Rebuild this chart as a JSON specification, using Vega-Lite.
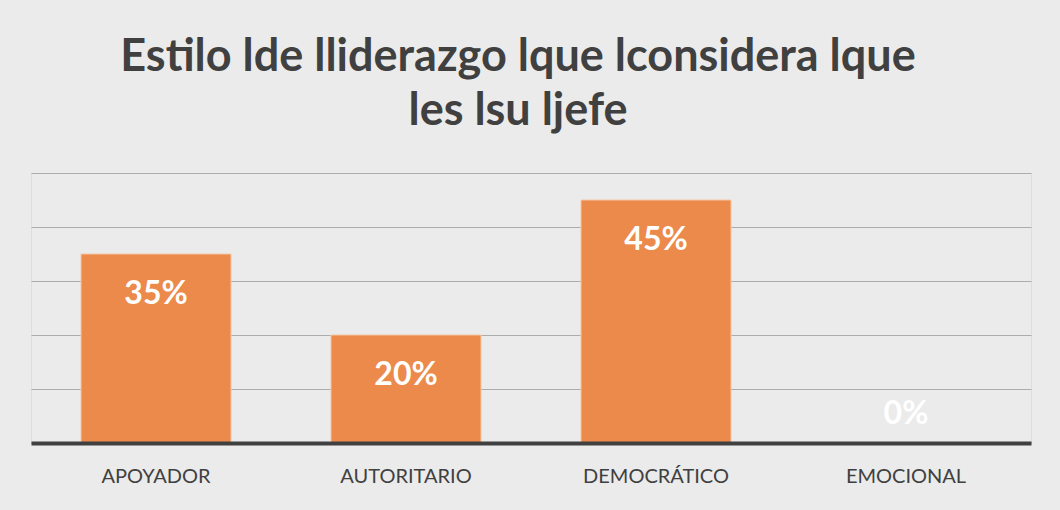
{
  "$schema": "https://vega.github.io/schema/vega-lite/v6.json",
  "width": 1000,
  "height": 270,
  "autosize": {"type": "none"},
  "padding": {"left": 31, "top": 173, "right": 29, "bottom": 67},
  "background": "#ebebeb",
  "title": {
    "text": ["Estilo lde lliderazgo lque lconsidera lque", "les lsu ljefe"],
    "font": "Lato",
    "fontSize": 45,
    "fontWeight": "bold",
    "color": "#404040",
    "lineHeight": 54,
    "anchor": "middle",
    "dx": -13,
    "offset": 39
  },
  "data": {
    "values": [
      {"estilo": "APOYADOR", "pct": 0.35},
      {"estilo": "AUTORITARIO", "pct": 0.20},
      {"estilo": "DEMOCRÁTICO", "pct": 0.45},
      {"estilo": "EMOCIONAL", "pct": 0.0}
    ]
  },
  "encoding": {
    "x": {
      "field": "estilo",
      "type": "nominal",
      "sort": null,
      "scale": {"paddingInner": 0.4, "paddingOuter": 0.2},
      "axis": {
        "title": null,
        "labelAngle": 0,
        "ticks": false,
        "domainColor": "#404040",
        "domainWidth": 4,
        "labelFont": "Lato",
        "labelFontSize": 20,
        "labelColor": "#404040",
        "labelPadding": 23,
        "zindex": 1
      }
    }
  },
  "layer": [
    {
      "mark": {"type": "bar", "color": "#EC8A4B", "stroke": "#f5c6a5", "strokeWidth": 1},
      "encoding": {
        "y": {
          "field": "pct",
          "type": "quantitative",
          "scale": {"domain": [0, 0.5]},
          "axis": {
            "title": null,
            "labels": false,
            "ticks": false,
            "domain": false,
            "values": [0, 0.1, 0.2, 0.3, 0.4, 0.5],
            "gridColor": "#acacac",
            "gridWidth": 1
          }
        }
      }
    },
    {
      "transform": [{"filter": "datum.pct > 0"}],
      "mark": {"type": "text", "baseline": "middle", "dy": 40, "color": "white", "font": "Lato", "fontSize": 32, "fontWeight": "bold"},
      "encoding": {
        "y": {"field": "pct", "type": "quantitative"},
        "text": {"field": "pct", "type": "quantitative", "format": ".0%"}
      }
    },
    {
      "transform": [{"filter": "datum.pct == 0"}],
      "mark": {"type": "text", "baseline": "middle", "dy": -29, "color": "white", "font": "Lato", "fontSize": 32, "fontWeight": "bold"},
      "encoding": {
        "y": {"field": "pct", "type": "quantitative"},
        "text": {"field": "pct", "type": "quantitative", "format": ".0%"}
      }
    }
  ]
}
